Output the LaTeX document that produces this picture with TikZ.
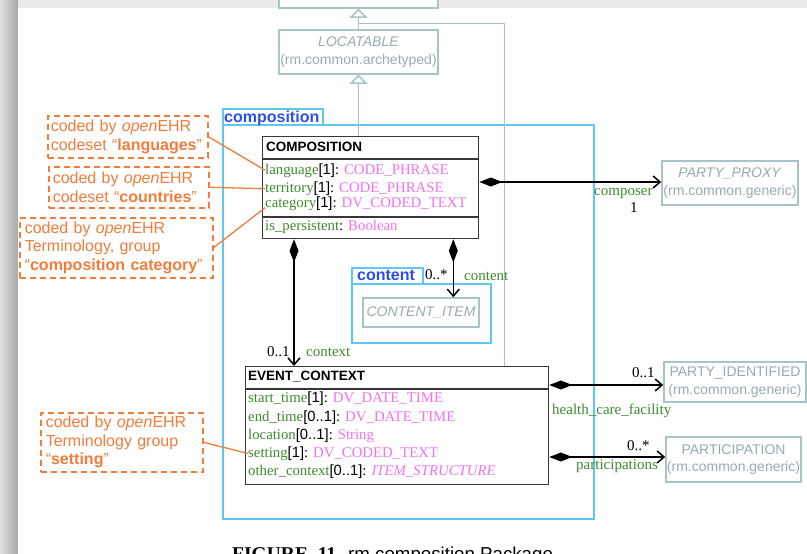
\documentclass[tikz,border=0pt]{standalone}
\usepackage{fontspec}
\setmainfont{Liberation Serif}
\setsansfont{Liberation Sans}
\usetikzlibrary{arrows.meta,calc}
\definecolor{umlgreen}{RGB}{62,140,45}
\definecolor{umlpink}{RGB}{240,115,240}
\definecolor{ored}{RGB}{240,125,60}
\definecolor{greybox}{RGB}{168,196,198}
\definecolor{greytext}{RGB}{150,172,178}
\definecolor{pkgcyan}{RGB}{95,200,240}
\definecolor{pkgblue}{RGB}{45,80,235}
\definecolor{classline}{RGB}{55,55,55}
\newcommand{\atr}[3]{{\color{umlgreen}#1}{\sffamily[#2]}: {\color{umlpink}#3}}
\begin{document}
\begin{tikzpicture}[x=1pt,y=-1pt,
  pkg/.style={draw=pkgcyan, line width=1.6pt, inner sep=0pt, anchor=north west},
  pkglabel/.style={font=\sffamily\bfseries\fontsize{16}{18}\selectfont, text=pkgblue, inner sep=0pt, anchor=base west},
  cls/.style={draw=classline, line width=1.3pt, inner sep=0pt, anchor=north west, fill=white},
  clshead/.style={font=\sffamily\bfseries\fontsize{13.5}{16}\selectfont, inner sep=0pt, anchor=base west},
  attr/.style={font=\fontsize{14.8}{17}\selectfont, inner sep=0pt, anchor=base west},
  lbl/.style={font=\fontsize{15}{17}\selectfont, text=umlgreen, inner sep=0pt, anchor=base west},
  mult/.style={font=\fontsize{15}{17}\selectfont, inner sep=0pt, anchor=base west},
  gbox/.style={draw=greybox, line width=1.5pt, inner sep=0pt, fill=white, text=greytext, align=center,
     font=\sffamily\fontsize{14}{17.5}\selectfont},
  onote/.style={draw=ored, dash pattern=on 6pt off 4pt, line width=1.5pt, text=ored, align=left,
     anchor=north west, inner ysep=0pt, font=\sffamily\fontsize{16}{18.5}\selectfont},
  oline/.style={draw=ored, line width=1.3pt},
  agg/.style={draw=black, line width=1.5pt, {Diamond[length=23pt,width=9pt]}-{Straight Barb[length=7pt,width=12pt]}},
  gen/.style={draw=greybox, line width=1.5pt, -{Triangle[open,length=9pt,width=18pt,fill=white]}},
  genline/.style={draw=greybox, line width=1.5pt}
]
\useasboundingbox (0,0) rectangle (807,554);
\clip (0,0) rectangle (807,554);
% page and shadow
\fill[black!8] (0,0) rectangle (807,554);
\shade[left color=black!12, right color=black!34] (0,0) rectangle (18,554);
\fill[white] (18,8) rectangle (807,554);

% packages
\node[pkg, minimum width=371pt, minimum height=394pt] (pcomp) at (222,124) {};
\node[pkg, minimum width=100pt, minimum height=16pt] (pcomptab) at (222,108) {};
\node[pkglabel] (pcomplbl) at (224,122) {composition};
\node[pkg, minimum width=139pt, minimum height=59pt] (pcont) at (351,283) {};
\node[pkg, minimum width=71pt, minimum height=16pt] (pconttab) at (351,267) {};
\node[pkglabel] (pcontlbl) at (357,280.5) {content};

% grey boxes
\node[gbox, minimum width=159pt, minimum height=38pt] (parent) at (358.5,-11) {};
\node[gbox, minimum width=159pt, minimum height=44pt] (loc) at (358.5,52) {\textit{LOCATABLE}\\(rm.common.archetyped)};
\node[gbox, minimum width=136pt, minimum height=44pt] (proxy) at (730,183) {\textit{PARTY\_PROXY}\\(rm.common.generic)};
\node[gbox, minimum width=142pt, minimum height=40pt] (pid) at (735,382) {PARTY\_IDENTIFIED\\(rm.common.generic)};
\node[gbox, minimum width=135pt, minimum height=45pt] (part) at (733.5,459.5) {PARTICIPATION\\(rm.common.generic)};
\node[gbox, minimum width=116pt, minimum height=29pt] (citem) at (421,312.5) {\textit{CONTENT\_ITEM}};

% classes
\node[cls, minimum width=216pt, minimum height=102pt] (comp) at (262,136) {};
\draw[classline, line width=1.3pt] ([yshift=-23pt]comp.north west) -- ([yshift=-23pt]comp.north east);
\draw[classline, line width=1.3pt] ([yshift=-81pt]comp.north west) -- ([yshift=-81pt]comp.north east);
\node[clshead] (comph) at (266,151) {COMPOSITION};
\node[attr] (a1) at (265,174) {\atr{language}{1}{CODE\_PHRASE}};
\node[attr] (a2) at (265,192.5) {\atr{territory}{1}{CODE\_PHRASE}};
\node[attr] (a3) at (265,207.5) {\atr{category}{1}{DV\_CODED\_TEXT}};
\node[attr] (a4) at (265,230.5) {{\color{umlgreen}is\_persistent}: {\color{umlpink}Boolean}};

\node[cls, minimum width=303pt, minimum height=118pt] (ec) at (245,366) {};
\draw[classline, line width=1.3pt] ([yshift=-23pt]ec.north west) -- ([yshift=-23pt]ec.north east);
\node[clshead] (ech) at (248,380) {EVENT\_CONTEXT};
\node[attr] (e1) at (248,402.7) {\atr{start\_time}{1}{DV\_DATE\_TIME}};
\node[attr] (e2) at (248,421) {\atr{end\_time}{0..1}{DV\_DATE\_TIME}};
\node[attr] (e3) at (248,439) {\atr{location}{0..1}{String}};
\node[attr] (e4) at (248,457.3) {\atr{setting}{1}{DV\_CODED\_TEXT}};
\node[attr] (e5) at (248,475) {\atr{other\_context}{0..1}{\textit{ITEM\_STRUCTURE}}};

% generalisation lines
\coordinate (ecT) at ([xshift=-45pt]ec.north east);
\coordinate (genJ) at ([yshift=6pt]loc.north);
\draw[genline] (ecT) |- (genJ);
\draw[gen] (loc.south |- comp.north) -- (loc.south);
\draw[gen] (loc.north) -- (parent.south);

% associations
\coordinate (compR) at ([yshift=-46pt]comp.north east);
\coordinate (compB1) at ([xshift=32pt]comp.south west);
\coordinate (compB2) at ([xshift=-26pt]comp.south east);
\coordinate (ecR1) at ([yshift=-19pt]ec.north east);
\coordinate (ecR2) at ([yshift=-91pt]ec.north east);
\draw[agg] (compR) -- (compR -| proxy.west);
\draw[agg] (compB2) -- (compB2 |- citem.north);
\draw[agg] (compB1) -- (compB1 |- ec.north);
\draw[agg] (ecR1) -- (ecR1 -| pid.west);
\draw[agg] (ecR2) -- (ecR2 -| part.west);

\node[lbl] (lcomposer) at (594,195) {composer};
\node[mult] (mcomposer) at (630,212) {1};
\node[mult] (mcontent) at (425,279) {0..*};
\node[lbl] (lcontent) at (464,280) {content};
\node[mult] (mcontext) at (267,356.5) {0..1};
\node[lbl] (lcontext) at (306,356.5) {context};
\node[mult] (mhcf) at (632,377) {0..1};
\node[lbl] (lhcf) at (552,414.5) {health\_care\_facility};
\node[mult] (mpart) at (627,450.5) {0..*};
\node[lbl] (lpart) at (576,469.5) {participations};

% orange notes
\node[onote, minimum height=42pt, inner xsep=3pt, text width=154pt] (lang) at (47,115)
  {coded by \textit{open}EHR\\codeset “\textbf{languages}”};
\node[onote, minimum height=41pt, inner xsep=4pt, text width=152pt] (ctry) at (48,166)
  {coded by \textit{open}EHR\\codeset “\textbf{countries}”};
\node[onote, minimum height=60pt, inner xsep=5pt, text width=183pt] (cat) at (19,217)
  {coded by \textit{open}EHR\\Terminology, group\\“\textbf{composition category}”};
\node[onote, minimum height=59pt, inner xsep=5pt, text width=152pt] (sett) at (40,412)
  {coded by \textit{open}EHR\\Terminology group\\“\textbf{setting}”};
\draw[oline] (lang.east) -- (a1.west);
\draw[oline] (ctry.east) -- (a2.west);
\draw[oline] (cat.east) -- ([yshift=-4pt]a3.west);
\draw[oline] (sett.east) -- (e4.west);

% caption (cut off at the bottom, as in the reference)
\node[inner sep=0pt, anchor=base west, font=\bfseries\fontsize{19.5}{22}\selectfont] (capfig) at (232,560) {FIGURE\ \ 11};
\node[inner sep=0pt, anchor=base west, font=\sffamily\fontsize{18.7}{22}\selectfont] (captxt) at (348,560) {rm.composition Package};
\end{tikzpicture}
\end{document}
